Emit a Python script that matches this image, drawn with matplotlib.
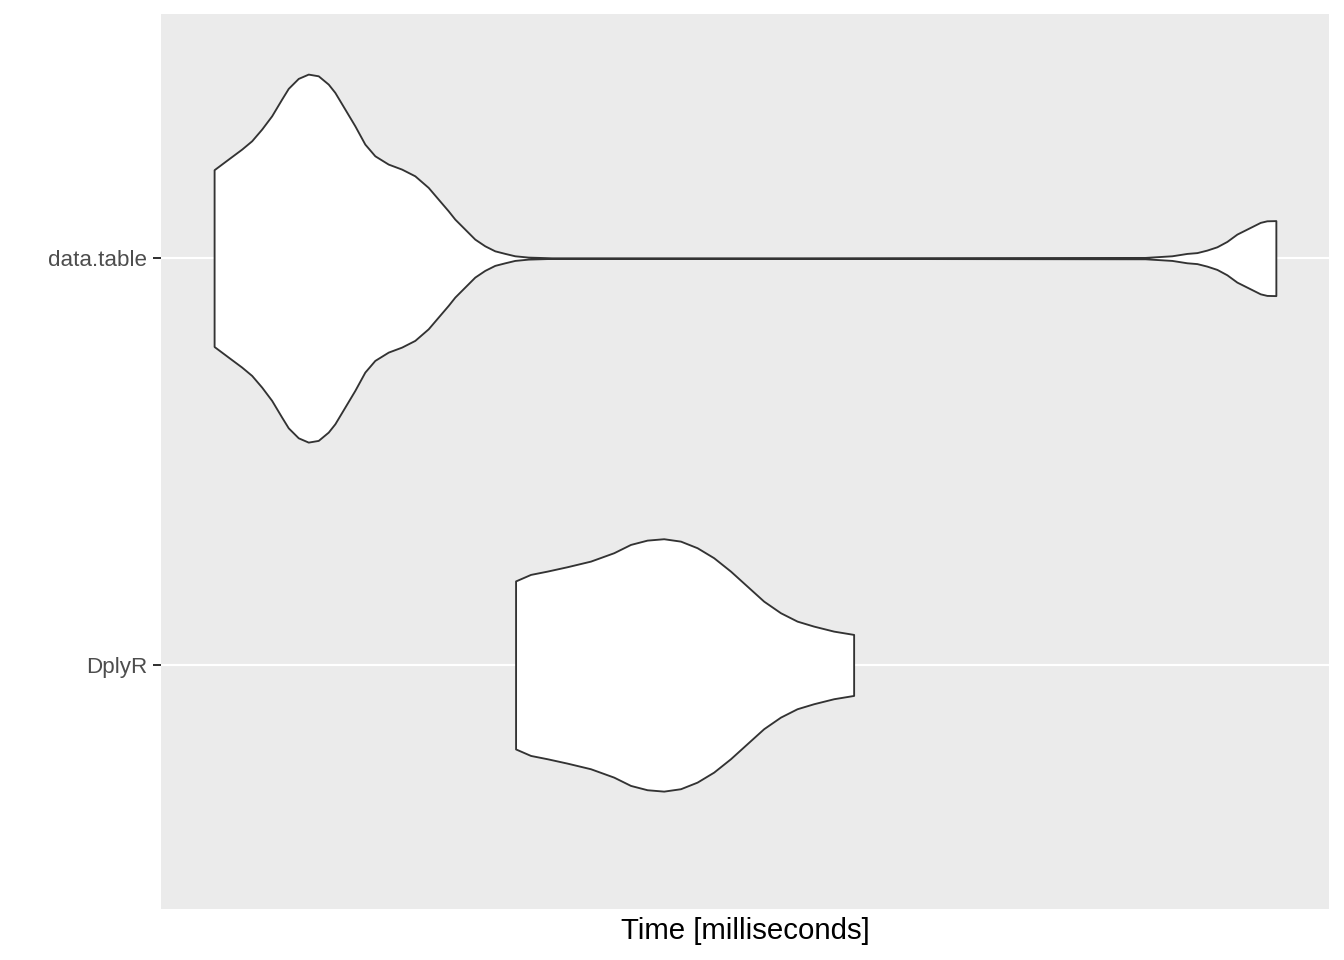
import numpy as np
import matplotlib
matplotlib.use("Agg")
from matplotlib import pyplot as plt

plt.rcParams['font.family'] = ['Liberation Sans', 'DejaVu Sans']

#カテゴリ
categories = ['DplyR', 'data.table']

#violinの輪郭 (時間[ms], 半幅[カテゴリ単位]) 画像から読み取り
dt_time = [2.50, 3.21, 3.88, 4.38, 4.88, 5.38, 5.88, 6.21, 6.71, 7.21, 7.71, 8.21,
           8.54, 9.04, 9.54, 10.04, 10.54, 11.21, 11.88, 12.54, 13.21, 13.71, 14.21,
           14.54, 15.04, 15.54, 16.04, 16.54, 17.04, 17.54, 18.21, 19.38, 31.83,
           49.07, 50.41, 51.16, 51.66, 52.16, 52.66, 53.16, 53.66, 54.16, 54.83, 55.16, 55.61]
dt_width = [0.2173, 0.2434, 0.2679, 0.2884, 0.3171, 0.3498, 0.3909, 0.4172, 0.4417, 0.4523, 0.4481, 0.4277,
            0.4073, 0.3663, 0.3252, 0.2802, 0.2515, 0.2311, 0.2188, 0.2023, 0.1738, 0.1450, 0.1163,
            0.0959, 0.0713, 0.0467, 0.0302, 0.0179, 0.0116, 0.0057, 0.0025, 0.0008, 0.0008,
            0.0017, 0.0057, 0.0115, 0.0135, 0.0197, 0.0278, 0.0410, 0.0590, 0.0713, 0.0878, 0.0917, 0.0922]
dp_time = [17.58, 18.33, 19.16, 20.16, 21.33, 22.49, 23.33, 24.16, 24.99, 25.83,
           26.66, 27.49, 28.33, 29.16, 29.99, 30.83, 31.66, 32.49, 33.49, 34.49]
dp_width = [0.2065, 0.2225, 0.2306, 0.2414, 0.2552, 0.2758, 0.2962, 0.3068, 0.3102, 0.3043,
            0.2881, 0.2635, 0.2306, 0.1937, 0.1568, 0.1283, 0.1077, 0.0954, 0.0831, 0.0750]

fig = plt.figure(figsize=(7, 5), dpi=192)
ax = fig.add_axes([0.1198, 0.0531, 0.869, 0.9323])
ax.set_facecolor('#EBEBEB')

#グリッド
for i in range(len(categories)):
    ax.axhline(i + 1, color='white', linewidth=0.8, zorder=1)

#violinを描画する
profiles = [(dp_time, dp_width), (dt_time, dt_width)]
for i, (t, w) in enumerate(profiles):
    t = np.array(t)
    w = np.array(w)
    ax.fill_between(t, i + 1 - w, i + 1 + w, facecolor='white', edgecolor='#333333',
                    linewidth=0.7, zorder=2)

xmin = min(min(dt_time), min(dp_time))
xmax = max(max(dt_time), max(dp_time))
span = xmax - xmin
ax.set_xlim(xmin - 0.05 * span, xmax + 0.05 * span)
ax.set_ylim(0.4, 2.6)

ax.set_yticks([1, 2])
ax.set_yticklabels(categories, fontsize=8.4, color='#4D4D4D')
ax.tick_params(axis='y', length=2.9, width=0.75, color='#333333', pad=2.2)
ax.set_xticks([])
for s in ax.spines.values():
    s.set_visible(False)

ax.set_xlabel('Time [milliseconds]', fontsize=11, color='black', labelpad=3)

fig.savefig('out.png', dpi=192)
